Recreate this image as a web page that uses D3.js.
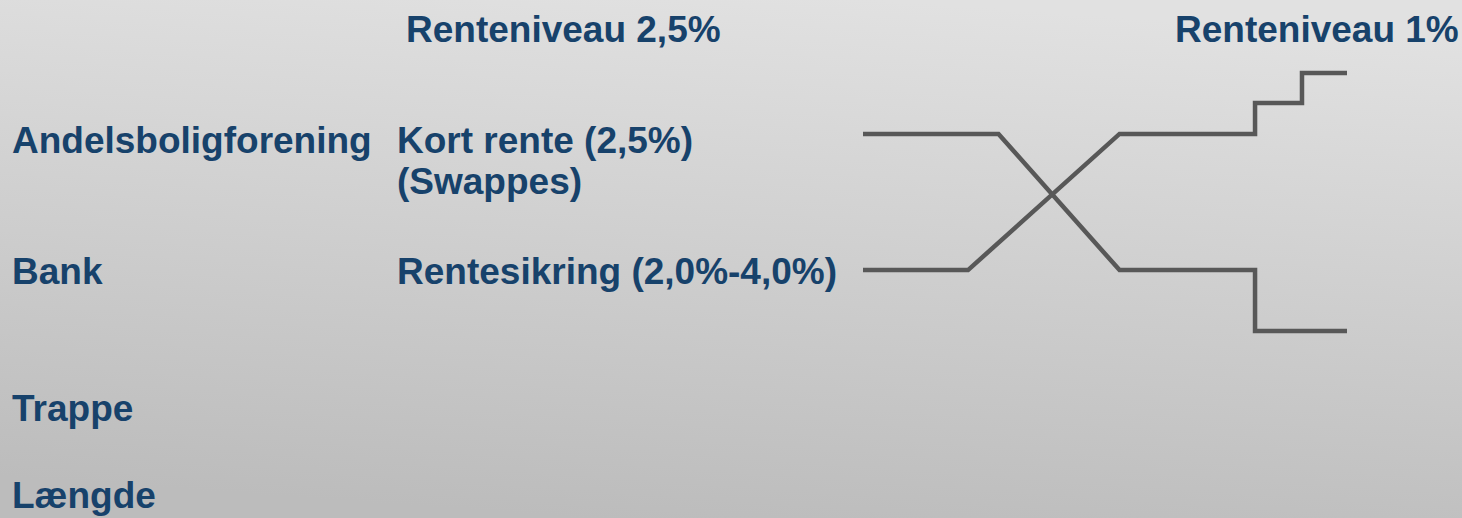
<!DOCTYPE html>
<html>
<head>
<meta charset="utf-8">
<script src="https://cdn.jsdelivr.net/npm/d3@7"></script>
<style>
  html, body { margin: 0; padding: 0; overflow: hidden; }
  svg { display: block; }
</style>
</head>
<body>
<script>
// ---- data ----
const columnHeaders = ["Renteniveau 2,5%", "Renteniveau 1%"];
const rowLabels = ["Andelsboligforening", "Bank", "Trappe", "Længde"];
const instrumentLabels = [["Kort rente (2,5%)", "(Swappes)"], ["Rentesikring (2,0%-4,0%)"]];
// path of the short-rate line (x: time units 0-100, y: level units 0-100)
const kortRenteX = [0, 28, 53, 81, 81, 100];
const kortRenteY = [76.4, 76.4, 23.6, 23.6, 0, 0];
// path of the hedge line
const sikringX = [0, 21.7, 53, 81, 81, 90.7, 90.7, 100];
const sikringY = [23.6, 23.6, 76.4, 76.4, 88.4, 88.4, 100, 100];

const W = 1462, H = 518;
const svg = d3.select("body").append("svg").attr("width", W).attr("height", H);

const defs = svg.append("defs");
const grad = defs.append("linearGradient").attr("id", "bg")
  .attr("x1", "0.6").attr("y1", "0").attr("x2", "0.4").attr("y2", "1");
grad.append("stop").attr("offset", "0").attr("stop-color", "#e1e1e1");
grad.append("stop").attr("offset", "1").attr("stop-color", "#bcbcbc");
svg.append("rect").attr("width", W).attr("height", H).attr("fill", "url(#bg)");

const x = d3.scaleLinear().domain([0, 100]).range([863, 1347]);
const y = d3.scaleLinear().domain([0, 100]).range([331, 73]);

const textColor = "#17426b";
const font = "'Liberation Sans', Arial, sans-serif";
const fs = 37;

function txt(str, tx, ty) {
  svg.append("text").attr("x", tx).attr("y", ty)
    .attr("font-family", font).attr("font-weight", "bold")
    .attr("font-size", fs).attr("fill", textColor).text(str);
}

txt(columnHeaders[0], 406, 42);
txt(columnHeaders[1], 1175, 42);

const rowY = [153, 284, 421, 508];
rowLabels.forEach((l, i) => txt(l, 12, rowY[i]));

txt(instrumentLabels[0][0], 397, 153);
txt(instrumentLabels[0][1], 397, 194);
txt(instrumentLabels[1][0], 397, 284);

const line = d3.line().x(d => x(d[0])).y(d => y(d[1]));
const series = [d3.zip(kortRenteX, kortRenteY), d3.zip(sikringX, sikringY)];
svg.selectAll("path.series").data(series).join("path")
  .attr("class", "series")
  .attr("d", line)
  .attr("fill", "none")
  .attr("stroke", "#585858")
  .attr("stroke-width", 4.5)
  .attr("stroke-linejoin", "miter");
</script>
</body>
</html>
